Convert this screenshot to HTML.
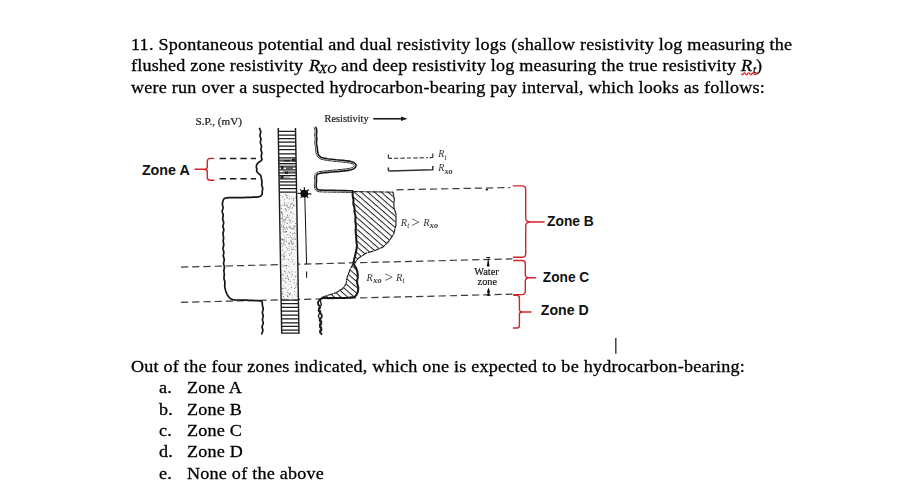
<!DOCTYPE html>
<html><head><meta charset="utf-8">
<style>
html,body{margin:0;padding:0;background:#fff;}
body{width:911px;height:504px;position:relative;overflow:hidden;font-family:"Liberation Serif",serif;color:#000;}
.t{position:absolute;white-space:nowrap;font-size:17.5px;line-height:20px;left:131.4px;letter-spacing:0.215px;transform-origin:left top;transform:scaleX(1.035);-webkit-text-stroke:0.3px #000;}
i{font-style:italic;}
svg{position:absolute;left:0;top:0;}
.z{font-family:"Liberation Sans",sans-serif;font-weight:bold;font-size:14.3px;fill:#111;}
.s{font-family:"Liberation Serif",serif;fill:#333;}
.b{fill:#1c1c1c;stroke:#1c1c1c;stroke-width:0.22px;}
</style></head><body>
<span class="t" style="top:34.1px;left:131px">11. Spontaneous potential and dual resistivity logs (shallow resistivity log measuring the</span>
<span class="t" style="top:55.2px;letter-spacing:0.17px">flushed zone resistivity</span>
<span class="t" style="top:55.2px;left:308.6px"><i>R</i></span><span class="t" style="top:58.5px;left:318.7px;font-size:12.5px;letter-spacing:0.3px"><i>XO</i></span>
<span class="t" style="top:55.2px;left:341.2px;letter-spacing:0.2px">and deep resistivity log measuring the true resistivity</span>
<span class="t" style="top:55.2px;left:740.9px"><i>R</i></span><span class="t" style="top:59.2px;left:752.8px;font-size:11px"><i>t</i></span><span class="t" style="top:55.2px;left:755.9px">)</span>
<span class="t" style="top:76.8px;">were run over a suspected hydrocarbon-bearing pay interval, which looks as follows:</span>
<span class="t" style="top:356px;">Out of the four zones indicated, which one is expected to be hydrocarbon-bearing:</span>
<span class="t" style="top:377.2px;left:159px">a.</span><span class="t" style="top:377.2px;left:187px">Zone A</span>
<span class="t" style="top:398.6px;left:159px">b.</span><span class="t" style="top:398.6px;left:187px">Zone B</span>
<span class="t" style="top:420px;left:159px">c.</span><span class="t" style="top:420px;left:187px">Zone C</span>
<span class="t" style="top:441.2px;left:159px">d.</span><span class="t" style="top:441.2px;left:187px">Zone D</span>
<span class="t" style="top:462.9px;left:159px">e.</span><span class="t" style="top:462.9px;left:187px">None of the above</span>
<svg width="911" height="504" viewBox="0 0 911 504">
<defs>
<pattern id="hatch" width="4.4" height="4.4" patternUnits="userSpaceOnUse" patternTransform="rotate(41)"><rect x="0" y="0" width="4.4" height="1.0" fill="#222"/></pattern>
<pattern id="sand" width="6" height="6" patternUnits="userSpaceOnUse">
<rect width="6" height="6" fill="#f0f0f0"/>
<circle cx="1" cy="1" r="0.5" fill="#999"/><circle cx="4" cy="2.2" r="0.45" fill="#aaa"/><circle cx="2.4" cy="4.3" r="0.5" fill="#999"/><circle cx="5.2" cy="5" r="0.4" fill="#bbb"/>
</pattern>
<filter id="bl" x="-5%" y="-5%" width="110%" height="110%"><feGaussianBlur stdDeviation="0.35"/></filter>
</defs>
<g filter="url(#bl)">
<!-- long dashed lines -->
<g stroke="#3a3a3a" stroke-width="1.2" fill="none" stroke-dasharray="7.2 4">
<line x1="396.4" y1="189.8" x2="510.4" y2="187.5"/>
<line x1="181" y1="267.1" x2="512.4" y2="258.9"/>
<line x1="181" y1="302.3" x2="512.4" y2="294.2"/>
</g>
<!-- zone A dashes -->
<g stroke="#1a1a1a" stroke-width="1.5" fill="none" stroke-dasharray="6.4 4">
<line x1="219.6" y1="158.6" x2="256" y2="158.6"/>
<line x1="219.6" y1="178.7" x2="256" y2="178.7"/>
</g>
<!-- column -->
<polygon points="279.8,192.3 297,192.3 298.8,299.6 281.2,299.6" fill="#f7f7f7"/>
<g><circle cx="288.4" cy="218.5" r="0.42" fill="#999"/><circle cx="289.4" cy="243.3" r="0.49" fill="#888"/><circle cx="283.8" cy="220.7" r="0.62" fill="#888"/><circle cx="289.1" cy="250.3" r="0.43" fill="#666"/><circle cx="282.7" cy="217.9" r="0.60" fill="#888"/><circle cx="291.4" cy="271.3" r="0.32" fill="#999"/><circle cx="291.9" cy="198.0" r="0.56" fill="#777"/><circle cx="291.7" cy="243.1" r="0.58" fill="#888"/><circle cx="292.9" cy="235.0" r="0.44" fill="#666"/><circle cx="283.1" cy="285.8" r="0.34" fill="#666"/><circle cx="290.5" cy="220.6" r="0.55" fill="#777"/><circle cx="293.5" cy="237.7" r="0.48" fill="#999"/><circle cx="289.7" cy="254.9" r="0.59" fill="#555"/><circle cx="297.0" cy="283.4" r="0.51" fill="#666"/><circle cx="285.9" cy="266.9" r="0.47" fill="#999"/><circle cx="291.8" cy="253.3" r="0.37" fill="#999"/><circle cx="282.4" cy="221.5" r="0.45" fill="#888"/><circle cx="292.4" cy="202.8" r="0.43" fill="#666"/><circle cx="286.2" cy="195.6" r="0.43" fill="#555"/><circle cx="289.2" cy="198.1" r="0.31" fill="#999"/><circle cx="294.2" cy="228.3" r="0.61" fill="#999"/><circle cx="281.3" cy="218.3" r="0.30" fill="#555"/><circle cx="281.9" cy="256.5" r="0.36" fill="#888"/><circle cx="284.3" cy="224.1" r="0.52" fill="#777"/><circle cx="295.5" cy="226.5" r="0.59" fill="#888"/><circle cx="294.1" cy="233.1" r="0.42" fill="#999"/><circle cx="282.8" cy="265.0" r="0.61" fill="#999"/><circle cx="289.9" cy="222.0" r="0.53" fill="#777"/><circle cx="284.5" cy="239.4" r="0.40" fill="#777"/><circle cx="286.0" cy="194.7" r="0.49" fill="#555"/><circle cx="289.4" cy="233.0" r="0.34" fill="#777"/><circle cx="291.0" cy="242.5" r="0.41" fill="#777"/><circle cx="282.0" cy="271.0" r="0.32" fill="#555"/><circle cx="285.3" cy="294.6" r="0.45" fill="#999"/><circle cx="283.7" cy="256.7" r="0.36" fill="#777"/><circle cx="285.3" cy="282.1" r="0.55" fill="#555"/><circle cx="282.1" cy="274.6" r="0.48" fill="#666"/><circle cx="283.7" cy="226.1" r="0.56" fill="#666"/><circle cx="290.8" cy="227.9" r="0.51" fill="#555"/><circle cx="284.8" cy="204.2" r="0.41" fill="#666"/><circle cx="293.9" cy="239.5" r="0.35" fill="#777"/><circle cx="284.5" cy="271.4" r="0.48" fill="#777"/><circle cx="282.2" cy="217.1" r="0.47" fill="#666"/><circle cx="293.4" cy="226.6" r="0.48" fill="#777"/><circle cx="293.3" cy="229.2" r="0.33" fill="#999"/><circle cx="282.6" cy="229.8" r="0.39" fill="#777"/><circle cx="290.3" cy="242.3" r="0.39" fill="#999"/><circle cx="295.0" cy="236.5" r="0.35" fill="#555"/><circle cx="293.6" cy="243.6" r="0.50" fill="#999"/><circle cx="295.5" cy="239.1" r="0.60" fill="#666"/><circle cx="286.7" cy="196.9" r="0.54" fill="#999"/><circle cx="289.7" cy="294.7" r="0.58" fill="#555"/><circle cx="296.6" cy="283.6" r="0.34" fill="#666"/><circle cx="294.0" cy="198.2" r="0.52" fill="#666"/><circle cx="295.5" cy="287.6" r="0.48" fill="#555"/><circle cx="282.7" cy="244.0" r="0.46" fill="#666"/><circle cx="288.9" cy="263.1" r="0.43" fill="#999"/><circle cx="282.1" cy="205.4" r="0.61" fill="#999"/><circle cx="292.8" cy="243.6" r="0.41" fill="#666"/><circle cx="293.9" cy="206.3" r="0.34" fill="#666"/><circle cx="295.7" cy="276.6" r="0.56" fill="#555"/><circle cx="289.3" cy="244.7" r="0.43" fill="#777"/><circle cx="289.6" cy="219.6" r="0.47" fill="#555"/><circle cx="292.6" cy="243.2" r="0.30" fill="#555"/><circle cx="282.3" cy="274.9" r="0.32" fill="#888"/><circle cx="294.9" cy="295.8" r="0.33" fill="#999"/><circle cx="283.2" cy="244.9" r="0.32" fill="#888"/><circle cx="289.8" cy="261.4" r="0.42" fill="#666"/><circle cx="288.0" cy="297.2" r="0.34" fill="#555"/><circle cx="286.8" cy="268.7" r="0.33" fill="#666"/><circle cx="286.8" cy="198.0" r="0.51" fill="#999"/><circle cx="292.9" cy="233.4" r="0.50" fill="#888"/><circle cx="289.4" cy="199.1" r="0.54" fill="#777"/><circle cx="291.2" cy="237.7" r="0.45" fill="#666"/><circle cx="284.3" cy="216.5" r="0.49" fill="#888"/><circle cx="282.4" cy="217.1" r="0.31" fill="#777"/><circle cx="294.5" cy="232.8" r="0.55" fill="#777"/><circle cx="290.6" cy="206.3" r="0.60" fill="#999"/><circle cx="291.4" cy="276.7" r="0.53" fill="#999"/><circle cx="293.3" cy="249.4" r="0.53" fill="#888"/><circle cx="292.0" cy="208.6" r="0.31" fill="#555"/><circle cx="290.9" cy="252.8" r="0.42" fill="#555"/><circle cx="293.7" cy="229.4" r="0.31" fill="#555"/><circle cx="294.0" cy="264.2" r="0.60" fill="#999"/><circle cx="282.0" cy="224.9" r="0.62" fill="#999"/><circle cx="291.7" cy="247.2" r="0.33" fill="#555"/><circle cx="282.8" cy="291.6" r="0.40" fill="#999"/><circle cx="281.6" cy="212.4" r="0.62" fill="#666"/><circle cx="291.3" cy="241.2" r="0.60" fill="#777"/><circle cx="286.4" cy="232.1" r="0.41" fill="#888"/><circle cx="287.1" cy="295.0" r="0.38" fill="#888"/><circle cx="296.6" cy="282.1" r="0.43" fill="#999"/><circle cx="291.5" cy="272.9" r="0.47" fill="#888"/><circle cx="286.1" cy="209.9" r="0.58" fill="#666"/><circle cx="291.5" cy="203.6" r="0.59" fill="#999"/><circle cx="290.4" cy="293.3" r="0.57" fill="#666"/><circle cx="283.4" cy="221.6" r="0.49" fill="#777"/><circle cx="294.7" cy="291.7" r="0.47" fill="#777"/><circle cx="294.3" cy="264.0" r="0.49" fill="#999"/><circle cx="284.9" cy="254.9" r="0.37" fill="#555"/><circle cx="292.7" cy="221.6" r="0.36" fill="#999"/><circle cx="285.3" cy="231.3" r="0.55" fill="#666"/><circle cx="291.2" cy="237.4" r="0.52" fill="#666"/><circle cx="293.6" cy="242.6" r="0.56" fill="#999"/><circle cx="295.5" cy="196.4" r="0.32" fill="#888"/><circle cx="295.0" cy="275.7" r="0.31" fill="#666"/><circle cx="291.3" cy="287.1" r="0.55" fill="#555"/><circle cx="294.8" cy="294.2" r="0.38" fill="#666"/><circle cx="283.4" cy="275.0" r="0.50" fill="#555"/><circle cx="285.3" cy="288.0" r="0.58" fill="#777"/><circle cx="281.8" cy="212.7" r="0.56" fill="#555"/><circle cx="292.9" cy="203.2" r="0.39" fill="#777"/><circle cx="291.9" cy="241.0" r="0.41" fill="#555"/><circle cx="286.9" cy="228.7" r="0.46" fill="#666"/><circle cx="292.4" cy="261.2" r="0.46" fill="#666"/><circle cx="282.8" cy="250.7" r="0.39" fill="#888"/><circle cx="293.9" cy="205.3" r="0.59" fill="#555"/><circle cx="291.5" cy="248.9" r="0.52" fill="#777"/><circle cx="285.6" cy="273.0" r="0.52" fill="#777"/><circle cx="294.8" cy="204.8" r="0.41" fill="#999"/><circle cx="282.7" cy="249.8" r="0.46" fill="#777"/><circle cx="284.3" cy="199.7" r="0.53" fill="#666"/><circle cx="292.2" cy="261.3" r="0.35" fill="#777"/><circle cx="291.4" cy="286.9" r="0.34" fill="#999"/><circle cx="285.0" cy="208.3" r="0.53" fill="#999"/><circle cx="285.1" cy="237.6" r="0.36" fill="#888"/><circle cx="283.1" cy="226.3" r="0.32" fill="#666"/><circle cx="289.3" cy="272.7" r="0.54" fill="#777"/><circle cx="284.1" cy="204.0" r="0.32" fill="#666"/><circle cx="287.5" cy="197.9" r="0.38" fill="#999"/><circle cx="285.4" cy="230.7" r="0.43" fill="#999"/><circle cx="282.7" cy="278.5" r="0.46" fill="#555"/><circle cx="289.0" cy="209.4" r="0.52" fill="#999"/><circle cx="292.4" cy="275.3" r="0.36" fill="#666"/><circle cx="291.1" cy="253.0" r="0.43" fill="#666"/><circle cx="283.2" cy="255.7" r="0.43" fill="#666"/><circle cx="283.5" cy="250.7" r="0.36" fill="#777"/><circle cx="284.9" cy="232.3" r="0.57" fill="#888"/><circle cx="296.3" cy="287.1" r="0.42" fill="#999"/><circle cx="286.1" cy="288.6" r="0.46" fill="#999"/><circle cx="285.5" cy="265.6" r="0.58" fill="#888"/><circle cx="282.8" cy="196.7" r="0.50" fill="#555"/><circle cx="291.3" cy="274.4" r="0.46" fill="#999"/><circle cx="284.0" cy="259.1" r="0.55" fill="#666"/><circle cx="287.4" cy="197.4" r="0.51" fill="#888"/><circle cx="284.3" cy="205.2" r="0.51" fill="#666"/><circle cx="292.3" cy="207.7" r="0.50" fill="#555"/><circle cx="289.2" cy="196.2" r="0.46" fill="#888"/><circle cx="295.4" cy="250.1" r="0.40" fill="#777"/><circle cx="283.3" cy="266.4" r="0.57" fill="#999"/><circle cx="282.2" cy="274.9" r="0.33" fill="#777"/><circle cx="284.7" cy="298.3" r="0.32" fill="#666"/><circle cx="292.3" cy="239.4" r="0.46" fill="#555"/><circle cx="287.3" cy="276.1" r="0.57" fill="#666"/><circle cx="287.6" cy="234.6" r="0.32" fill="#888"/><circle cx="287.5" cy="215.4" r="0.31" fill="#888"/><circle cx="287.2" cy="273.0" r="0.36" fill="#555"/><circle cx="286.6" cy="269.1" r="0.42" fill="#999"/><circle cx="286.5" cy="231.5" r="0.61" fill="#666"/><circle cx="285.8" cy="220.7" r="0.57" fill="#999"/><circle cx="283.4" cy="214.0" r="0.35" fill="#888"/><circle cx="290.4" cy="246.4" r="0.34" fill="#999"/><circle cx="287.5" cy="211.2" r="0.32" fill="#555"/><circle cx="285.3" cy="235.8" r="0.31" fill="#555"/><circle cx="281.3" cy="218.6" r="0.46" fill="#666"/><circle cx="286.0" cy="218.9" r="0.36" fill="#777"/><circle cx="286.1" cy="258.9" r="0.34" fill="#555"/><circle cx="285.6" cy="278.3" r="0.61" fill="#888"/><circle cx="296.4" cy="276.4" r="0.46" fill="#999"/><circle cx="292.9" cy="221.4" r="0.50" fill="#777"/><circle cx="281.6" cy="226.8" r="0.44" fill="#555"/><circle cx="281.6" cy="255.7" r="0.31" fill="#555"/><circle cx="287.4" cy="195.5" r="0.45" fill="#666"/><circle cx="295.1" cy="262.2" r="0.36" fill="#888"/><circle cx="287.6" cy="229.2" r="0.41" fill="#555"/><circle cx="292.1" cy="233.6" r="0.50" fill="#888"/><circle cx="284.4" cy="202.7" r="0.57" fill="#555"/><circle cx="289.0" cy="246.8" r="0.47" fill="#888"/><circle cx="291.5" cy="211.8" r="0.53" fill="#999"/><circle cx="283.3" cy="231.2" r="0.56" fill="#888"/><circle cx="292.3" cy="217.6" r="0.45" fill="#777"/><circle cx="288.9" cy="279.7" r="0.54" fill="#888"/><circle cx="282.6" cy="293.2" r="0.35" fill="#555"/><circle cx="283.0" cy="279.9" r="0.52" fill="#555"/><circle cx="289.5" cy="227.1" r="0.56" fill="#555"/><circle cx="295.0" cy="285.7" r="0.44" fill="#777"/><circle cx="282.3" cy="298.2" r="0.36" fill="#555"/><circle cx="285.1" cy="229.0" r="0.44" fill="#666"/><circle cx="281.4" cy="218.8" r="0.35" fill="#666"/><circle cx="281.6" cy="255.0" r="0.37" fill="#666"/><circle cx="288.7" cy="216.6" r="0.43" fill="#999"/><circle cx="294.2" cy="227.0" r="0.55" fill="#888"/><circle cx="281.6" cy="212.1" r="0.56" fill="#555"/><circle cx="294.3" cy="256.3" r="0.33" fill="#777"/><circle cx="286.9" cy="202.5" r="0.37" fill="#999"/><circle cx="287.3" cy="204.9" r="0.51" fill="#777"/><circle cx="290.6" cy="235.8" r="0.55" fill="#777"/><circle cx="290.3" cy="281.2" r="0.56" fill="#666"/><circle cx="280.8" cy="205.8" r="0.40" fill="#555"/><circle cx="283.4" cy="229.4" r="0.54" fill="#999"/><circle cx="286.5" cy="265.6" r="0.55" fill="#555"/><circle cx="284.2" cy="257.1" r="0.41" fill="#555"/><circle cx="286.8" cy="228.7" r="0.33" fill="#666"/><circle cx="291.9" cy="227.4" r="0.37" fill="#666"/><circle cx="296.9" cy="285.3" r="0.50" fill="#999"/><circle cx="286.8" cy="283.0" r="0.36" fill="#999"/><circle cx="288.8" cy="293.2" r="0.55" fill="#888"/><circle cx="289.5" cy="242.8" r="0.31" fill="#555"/><circle cx="281.9" cy="212.9" r="0.53" fill="#777"/><circle cx="282.0" cy="246.4" r="0.45" fill="#666"/><circle cx="285.3" cy="271.7" r="0.44" fill="#777"/><circle cx="283.7" cy="242.7" r="0.55" fill="#666"/><circle cx="284.5" cy="204.4" r="0.43" fill="#555"/><circle cx="287.5" cy="215.1" r="0.56" fill="#777"/><circle cx="297.0" cy="296.0" r="0.58" fill="#777"/><circle cx="287.9" cy="292.5" r="0.60" fill="#888"/><circle cx="288.9" cy="248.7" r="0.42" fill="#777"/><circle cx="287.3" cy="223.4" r="0.58" fill="#777"/><circle cx="295.7" cy="272.0" r="0.47" fill="#555"/><circle cx="288.0" cy="207.3" r="0.47" fill="#666"/><circle cx="282.2" cy="293.3" r="0.61" fill="#888"/><circle cx="295.7" cy="230.8" r="0.42" fill="#999"/><circle cx="282.7" cy="197.2" r="0.30" fill="#888"/><circle cx="294.4" cy="288.5" r="0.49" fill="#555"/><circle cx="284.5" cy="240.8" r="0.52" fill="#888"/><circle cx="284.5" cy="237.4" r="0.31" fill="#888"/><circle cx="295.6" cy="197.4" r="0.35" fill="#999"/><circle cx="282.5" cy="219.5" r="0.54" fill="#888"/><circle cx="293.6" cy="246.9" r="0.48" fill="#777"/><circle cx="281.0" cy="195.2" r="0.46" fill="#555"/><circle cx="295.6" cy="287.7" r="0.45" fill="#999"/><circle cx="286.3" cy="247.6" r="0.50" fill="#777"/><circle cx="290.6" cy="212.7" r="0.62" fill="#999"/><circle cx="291.9" cy="204.2" r="0.44" fill="#777"/><circle cx="288.0" cy="277.8" r="0.61" fill="#666"/><circle cx="283.1" cy="254.1" r="0.31" fill="#888"/><circle cx="294.2" cy="282.9" r="0.60" fill="#999"/><circle cx="285.0" cy="222.2" r="0.49" fill="#555"/><circle cx="284.9" cy="244.7" r="0.53" fill="#777"/><circle cx="290.2" cy="204.3" r="0.42" fill="#999"/><circle cx="292.3" cy="244.6" r="0.56" fill="#888"/><circle cx="294.6" cy="214.0" r="0.36" fill="#888"/><circle cx="287.4" cy="292.4" r="0.32" fill="#666"/><circle cx="296.3" cy="293.2" r="0.40" fill="#888"/><circle cx="281.8" cy="251.8" r="0.43" fill="#888"/><circle cx="283.1" cy="296.4" r="0.37" fill="#666"/><circle cx="291.8" cy="270.9" r="0.34" fill="#555"/><circle cx="293.6" cy="259.8" r="0.30" fill="#777"/><circle cx="292.1" cy="295.8" r="0.44" fill="#888"/><circle cx="285.0" cy="242.0" r="0.48" fill="#666"/><circle cx="295.3" cy="218.3" r="0.35" fill="#666"/><circle cx="288.0" cy="266.0" r="0.43" fill="#555"/><circle cx="281.3" cy="208.4" r="0.54" fill="#666"/><circle cx="290.2" cy="226.2" r="0.34" fill="#666"/><circle cx="295.0" cy="198.6" r="0.47" fill="#888"/><circle cx="287.7" cy="275.3" r="0.36" fill="#555"/><circle cx="282.5" cy="223.0" r="0.35" fill="#666"/><circle cx="295.2" cy="233.8" r="0.49" fill="#666"/><circle cx="285.4" cy="194.3" r="0.35" fill="#888"/><circle cx="285.5" cy="219.3" r="0.60" fill="#888"/><circle cx="293.2" cy="204.4" r="0.45" fill="#777"/><circle cx="294.1" cy="249.2" r="0.44" fill="#888"/><circle cx="288.7" cy="242.2" r="0.44" fill="#999"/><circle cx="286.4" cy="241.4" r="0.54" fill="#777"/><circle cx="294.7" cy="291.4" r="0.36" fill="#666"/><circle cx="293.4" cy="226.8" r="0.34" fill="#999"/><circle cx="287.7" cy="296.2" r="0.58" fill="#555"/><circle cx="283.3" cy="253.7" r="0.34" fill="#888"/><circle cx="292.1" cy="297.6" r="0.47" fill="#777"/><circle cx="288.1" cy="203.2" r="0.44" fill="#666"/><circle cx="284.2" cy="255.5" r="0.45" fill="#999"/><circle cx="285.2" cy="232.7" r="0.41" fill="#999"/><circle cx="292.3" cy="274.5" r="0.41" fill="#777"/><circle cx="295.7" cy="223.6" r="0.39" fill="#555"/><circle cx="284.3" cy="256.7" r="0.62" fill="#666"/><circle cx="295.5" cy="223.2" r="0.44" fill="#888"/><circle cx="292.6" cy="228.6" r="0.36" fill="#999"/><circle cx="287.4" cy="249.0" r="0.50" fill="#555"/><circle cx="288.8" cy="237.3" r="0.50" fill="#777"/><circle cx="293.2" cy="199.7" r="0.42" fill="#555"/><circle cx="283.7" cy="232.0" r="0.48" fill="#555"/><circle cx="294.1" cy="238.8" r="0.53" fill="#777"/><circle cx="285.4" cy="194.7" r="0.42" fill="#888"/><circle cx="290.4" cy="232.6" r="0.58" fill="#999"/><circle cx="285.5" cy="245.5" r="0.30" fill="#555"/><circle cx="283.2" cy="258.0" r="0.33" fill="#777"/><circle cx="283.6" cy="239.2" r="0.31" fill="#777"/><circle cx="292.1" cy="249.6" r="0.57" fill="#666"/><circle cx="291.0" cy="239.8" r="0.34" fill="#888"/><circle cx="282.5" cy="217.1" r="0.40" fill="#999"/><circle cx="292.9" cy="213.4" r="0.49" fill="#555"/><circle cx="292.9" cy="238.7" r="0.42" fill="#888"/><circle cx="284.2" cy="280.9" r="0.39" fill="#888"/><circle cx="289.8" cy="214.9" r="0.49" fill="#777"/><circle cx="282.3" cy="239.3" r="0.61" fill="#555"/><circle cx="293.6" cy="200.3" r="0.54" fill="#777"/><circle cx="280.7" cy="200.4" r="0.45" fill="#888"/><circle cx="282.6" cy="259.8" r="0.51" fill="#888"/><circle cx="284.8" cy="286.1" r="0.40" fill="#888"/><circle cx="282.7" cy="294.1" r="0.47" fill="#999"/><circle cx="289.4" cy="248.5" r="0.33" fill="#666"/><circle cx="294.1" cy="279.7" r="0.59" fill="#888"/><circle cx="295.8" cy="223.4" r="0.51" fill="#999"/><circle cx="288.9" cy="217.3" r="0.41" fill="#999"/><circle cx="288.1" cy="207.5" r="0.50" fill="#777"/><circle cx="293.8" cy="226.6" r="0.49" fill="#999"/><circle cx="281.5" cy="214.9" r="0.44" fill="#777"/><circle cx="288.3" cy="259.6" r="0.57" fill="#666"/><circle cx="296.0" cy="279.9" r="0.34" fill="#999"/><circle cx="283.8" cy="235.2" r="0.36" fill="#555"/><circle cx="284.1" cy="227.8" r="0.58" fill="#555"/><circle cx="285.7" cy="218.4" r="0.37" fill="#777"/><circle cx="284.2" cy="219.8" r="0.52" fill="#777"/><circle cx="284.3" cy="270.4" r="0.40" fill="#666"/><circle cx="284.5" cy="252.8" r="0.52" fill="#666"/><circle cx="286.7" cy="278.6" r="0.37" fill="#999"/><circle cx="288.6" cy="234.9" r="0.49" fill="#777"/><circle cx="281.9" cy="239.9" r="0.55" fill="#888"/><circle cx="289.4" cy="245.0" r="0.39" fill="#888"/><circle cx="284.4" cy="265.5" r="0.56" fill="#888"/><circle cx="296.2" cy="229.8" r="0.45" fill="#666"/><circle cx="286.3" cy="205.6" r="0.58" fill="#666"/><circle cx="282.7" cy="254.8" r="0.47" fill="#777"/><circle cx="288.8" cy="243.7" r="0.58" fill="#888"/><circle cx="281.6" cy="232.9" r="0.41" fill="#666"/><circle cx="291.7" cy="259.0" r="0.61" fill="#999"/><circle cx="294.3" cy="225.3" r="0.58" fill="#999"/><circle cx="286.5" cy="227.5" r="0.60" fill="#777"/><circle cx="287.8" cy="290.5" r="0.48" fill="#777"/><circle cx="286.1" cy="237.9" r="0.36" fill="#777"/><circle cx="289.6" cy="266.7" r="0.42" fill="#555"/><circle cx="283.0" cy="227.5" r="0.59" fill="#888"/><circle cx="286.0" cy="211.6" r="0.36" fill="#888"/><circle cx="286.3" cy="251.5" r="0.53" fill="#999"/><circle cx="283.8" cy="244.1" r="0.46" fill="#666"/><circle cx="288.4" cy="206.0" r="0.34" fill="#888"/><circle cx="289.1" cy="284.7" r="0.43" fill="#555"/><circle cx="291.1" cy="243.8" r="0.37" fill="#777"/><circle cx="294.9" cy="205.8" r="0.45" fill="#888"/><circle cx="285.6" cy="209.0" r="0.52" fill="#777"/><circle cx="288.5" cy="253.5" r="0.36" fill="#666"/><circle cx="284.1" cy="219.4" r="0.41" fill="#777"/><circle cx="283.2" cy="288.3" r="0.53" fill="#555"/><circle cx="287.1" cy="217.2" r="0.61" fill="#777"/><circle cx="283.6" cy="280.5" r="0.31" fill="#888"/><circle cx="287.9" cy="221.8" r="0.42" fill="#888"/><circle cx="288.7" cy="271.7" r="0.52" fill="#888"/><circle cx="288.0" cy="296.2" r="0.39" fill="#777"/><circle cx="286.6" cy="255.0" r="0.31" fill="#666"/><circle cx="281.3" cy="238.8" r="0.55" fill="#666"/><circle cx="295.7" cy="246.5" r="0.57" fill="#777"/><circle cx="289.8" cy="220.5" r="0.48" fill="#777"/><circle cx="282.7" cy="214.8" r="0.61" fill="#555"/><circle cx="292.0" cy="244.4" r="0.35" fill="#999"/><circle cx="293.0" cy="228.9" r="0.53" fill="#777"/><circle cx="289.6" cy="207.9" r="0.58" fill="#666"/><circle cx="290.7" cy="203.5" r="0.50" fill="#999"/><circle cx="287.3" cy="234.5" r="0.62" fill="#999"/><circle cx="283.4" cy="240.0" r="0.56" fill="#555"/><circle cx="291.0" cy="223.1" r="0.35" fill="#555"/><circle cx="291.6" cy="228.8" r="0.57" fill="#777"/><circle cx="292.4" cy="204.2" r="0.42" fill="#999"/><circle cx="290.8" cy="240.2" r="0.40" fill="#666"/><circle cx="284.2" cy="239.8" r="0.30" fill="#666"/><circle cx="286.4" cy="217.6" r="0.33" fill="#777"/><circle cx="283.5" cy="296.5" r="0.51" fill="#666"/><circle cx="281.2" cy="224.0" r="0.31" fill="#777"/><circle cx="287.0" cy="216.9" r="0.46" fill="#999"/><circle cx="294.5" cy="233.5" r="0.37" fill="#999"/><circle cx="285.2" cy="238.3" r="0.32" fill="#888"/><circle cx="282.5" cy="246.0" r="0.60" fill="#999"/><circle cx="283.9" cy="292.1" r="0.47" fill="#777"/><circle cx="284.2" cy="298.5" r="0.42" fill="#777"/><circle cx="287.5" cy="206.3" r="0.45" fill="#666"/><circle cx="293.0" cy="271.2" r="0.31" fill="#555"/><circle cx="281.4" cy="243.2" r="0.53" fill="#888"/><circle cx="282.6" cy="288.6" r="0.52" fill="#777"/><circle cx="288.6" cy="279.3" r="0.55" fill="#666"/><circle cx="288.9" cy="225.9" r="0.43" fill="#555"/><circle cx="290.4" cy="205.4" r="0.38" fill="#666"/></g>
<path d="M278.3,131.4H295.6 M278.3,135.0H295.6 M278.4,138.6H295.7 M278.4,142.1H295.7 M278.5,146.1H295.8 M278.6,149.6H295.9 M278.6,153.8H295.9 M278.7,157.9H296.0 M278.8,160.9H296.1 M278.8,163.6H296.1 M278.9,166.8H296.2 M278.9,169.8H296.2 M279.0,172.9H296.3 M279.0,175.7H296.3 M279.1,178.8H296.4 M279.1,181.8H296.4 M279.2,185.0H296.5 M279.2,188.6H296.5 M279.3,192.1H296.6 M281.1,300.0H298.4 M281.2,303.6H298.5 M281.2,307.3H298.5 M281.3,311.2H298.6 M281.4,315.2H298.7 M281.4,318.9H298.7 M281.5,322.9H298.8 M281.6,326.4H298.9 M281.6,330.0H298.9 M281.7,333.2H299.0" stroke="#1c1c1c" stroke-width="1.25" fill="none"/>
<path d="M279,159.4H292 M279,165.2H296 M283,171.4H296.2 M279.3,177.2H290" stroke="#666" stroke-width="0.7" fill="none"/>
<g fill="#222"><rect x="292" y="158.5" width="3.5" height="3"/><rect x="281" y="166" width="2.5" height="3"/><rect x="285" y="171.5" width="3" height="2.5"/><rect x="280.5" y="176" width="3" height="2.7"/><rect x="284" y="160" width="6" height="1.4"/><rect x="286" y="167.5" width="7" height="1.2"/></g>
<g stroke="#1a1a1a" stroke-width="1.4" fill="none">
<line x1="278.2" y1="128" x2="281.7" y2="333.8"/>
<line x1="295.5" y1="128" x2="299" y2="333.8"/>
</g>
<!-- SP curve -->
<path fill="none" stroke="#161616" stroke-width="1.7" stroke-linejoin="round" stroke-linecap="round" d="M259.6,128.5 L259.7,128.7 L259.9,129.2 L260.1,129.8 L260.5,130.7 L260.7,131.6 L260.7,132.4 L260.5,133.3 L260.1,134.2 L260.0,135.1 L260.0,135.9 L260.2,136.8 L260.6,137.7 L260.9,138.6 L260.9,139.4 L260.8,140.3 L260.5,141.2 L260.3,142.1 L260.4,142.9 L260.7,143.8 L261.1,144.7 L261.4,145.6 L261.4,146.4 L261.4,147.3 L261.1,148.2 L261.0,149.1 L261.0,149.9 L261.2,150.8 L261.6,151.7 L261.8,152.6 L261.8,153.4 L261.7,154.3 L261.4,155.2 L261.3,156.1 L261.3,156.9 L261.5,157.8 L261.9,158.7 L261.9,159.5 L261.6,160.2 L260.9,160.9 L260.0,161.4 L259.1,162.0 L258.4,162.6 L257.8,163.1 L257.3,163.7 L256.9,164.2 L256.7,164.8 L256.5,165.4 L256.4,166.1 L256.4,166.7 L256.4,167.3 L256.5,167.9 L256.7,168.6 L256.8,169.2 L256.8,169.7 L256.8,170.2 L256.6,170.8 L256.7,171.3 L257.0,171.8 L257.4,172.3 L257.9,172.8 L258.5,173.3 L259.1,173.8 L259.6,174.3 L260.2,174.8 L260.6,175.4 L260.9,176.0 L261.1,176.7 L261.2,177.4 L261.3,178.2 L261.4,178.9 L261.6,179.7 L261.8,180.5 L261.9,181.3 L262.0,182.2 L261.9,183.0 L261.7,183.8 L261.7,184.6 L261.8,185.4 L262.0,186.2 L262.4,187.0 L262.6,187.8 L262.7,188.7 L262.6,189.5 L262.4,190.3 L262.2,191.0 L262.2,191.8 L262.2,192.4 L262.3,193.1 L262.2,193.7 L262.1,194.3 L261.8,194.8 L261.4,195.4 L260.9,195.8 L260.3,196.2 L259.6,196.5 L258.7,196.8 L257.6,196.9 L256.3,197.1 L254.7,197.2 L252.8,197.2 L250.8,197.3 L248.6,197.4 L246.2,197.4 L243.8,197.6 L241.2,197.6 L238.8,197.7 L236.2,197.7 L233.8,197.6 L231.6,197.6 L229.9,197.7 L228.5,197.7 L227.5,197.8 L226.6,197.9 L225.8,198.0 L225.2,198.2 L224.6,198.4 L224.2,198.7 L223.8,199.0 L223.5,199.4 L223.4,199.8 L223.2,200.4 L223.0,201.0 L222.7,201.8 L222.5,202.7 L222.4,203.6 L222.4,204.5 L222.6,205.4 L222.9,206.3 L223.1,207.2 L223.0,208.2 L222.8,209.1 L222.4,210.0 L222.2,211.0 L222.2,211.9 L222.5,212.8 L222.9,213.8 L223.2,214.7 L223.2,215.6 L223.1,216.5 L222.8,217.5 L222.7,218.4 L222.7,219.3 L222.9,220.2 L223.4,221.2 L223.6,222.1 L223.6,223.0 L223.5,224.0 L223.2,224.9 L223.0,225.8 L223.0,226.8 L223.2,227.7 L223.6,228.6 L223.7,229.5 L223.7,230.5 L223.6,231.4 L223.2,232.3 L223.0,233.2 L223.0,234.2 L223.1,235.1 L223.4,236.0 L223.5,237.0 L223.6,237.9 L223.5,238.8 L223.3,239.8 L223.2,240.7 L223.2,241.6 L223.4,242.5 L223.6,243.5 L223.8,244.4 L223.7,245.3 L223.5,246.2 L223.2,247.2 L223.0,248.1 L223.0,249.0 L223.2,250.0 L223.6,250.9 L223.8,251.8 L223.8,252.8 L223.7,253.7 L223.4,254.6 L223.3,255.5 L223.4,256.5 L223.6,257.4 L224.0,258.3 L224.2,259.2 L224.2,260.2 L224.1,261.1 L223.8,262.0 L223.6,263.0 L223.6,263.9 L223.8,264.8 L224.2,265.8 L224.4,266.7 L224.4,267.6 L224.3,268.5 L224.0,269.5 L223.9,270.4 L223.9,271.3 L224.0,272.2 L224.2,273.2 L224.3,274.1 L224.3,275.0 L224.2,276.0 L224.0,276.9 L224.0,277.8 L224.0,278.8 L224.2,279.7 L224.6,280.6 L224.8,281.6 L224.9,282.5 L224.9,283.5 L224.8,284.5 L224.7,285.5 L224.8,286.6 L224.9,287.7 L225.2,288.8 L225.4,289.9 L225.8,291.1 L226.2,292.2 L226.6,293.3 L227.1,294.4 L227.7,295.4 L228.3,296.4 L229.0,297.2 L229.7,298.0 L230.5,298.6 L231.3,299.1 L232.2,299.5 L233.2,299.7 L234.5,299.9 L235.9,300.0 L237.6,300.0 L239.4,300.0 L241.5,300.1 L243.8,300.1 L246.2,300.2 L248.6,300.3 L250.9,300.4 L253.0,300.4 L255.0,300.6 L256.7,300.6 L258.2,300.7 L259.4,300.8 L260.2,300.8 L261.0,300.9 L261.5,301.1 L261.9,301.4 L262.0,301.8 L262.2,302.2 L262.3,302.8 L262.3,303.5 L262.3,304.3 L262.4,305.1 L262.5,306.0 L262.8,306.8 L263.1,307.7 L263.2,308.6 L263.2,309.5 L263.0,310.4 L262.6,311.2 L262.4,312.1 L262.4,313.0 L262.6,313.9 L263.0,314.8 L263.2,315.7 L263.2,316.6 L263.0,317.4 L262.7,318.3 L262.5,319.2 L262.5,320.1 L262.7,321.0 L263.1,321.9 L263.2,322.7 L263.2,323.6 L262.9,324.5 L262.5,325.4 L262.2,326.3 L262.1,327.2 L262.3,328.1 L262.6,328.9 L262.8,329.8 L262.8,330.7 L262.6,331.6 L262.2,332.5 L262.0,333.1 L261.8,333.6 L261.7,333.8"/>
<!-- resistivity -->
<path d="M352.7,191.6 L392.9,192.1 L394.3,197.9 L393.8,206.8 L396.0,214.0 L396.0,224.6 L393.8,233.6 L389.3,240.7 L383.0,247.0 L375.0,250.5 L366.0,253.2 L358.0,258.6 L354.5,263.0 L353.2,263.5 L354.0,260.0 L355.0,256.0 L356.2,251.0 L357.0,246.0 L356.4,241.0 L356.2,236.0 L355.5,231.0 L356.0,226.0 L355.2,221.0 L355.6,216.0 L354.4,212.0 L354.6,208.0 L353.2,204.0 L353.6,200.0 L352.6,196.0 L352.7,191.6 Z" fill="url(#hatch)"/>
<path d="M353.2,263.5 L357.1,269.6 L358.0,276.8 L356.8,282.0 L358.6,288.4 L357.0,294.6 L353.6,297.9 L323.2,297.9 L320.5,298.2 L326.8,295.5 L335.7,292.9 L342.9,288.4 L346.0,284.0 L347.3,276.8 L350.0,269.6 L353.2,263.5 Z" fill="url(#hatch)"/>
<g fill="none" stroke-linejoin="round" stroke-linecap="round">
<path d="M315.9,127.3 L316.0,127.5 L316.1,128.0 L316.3,128.6 L316.6,129.5 L316.7,130.5 L316.8,131.5 L316.7,132.6 L316.5,133.6 L316.4,134.5 L316.4,135.5 L316.5,136.4 L316.7,137.4 L316.8,138.5 L316.8,139.5 L316.7,140.6 L316.5,141.6 L316.5,142.5 L316.5,143.4 L316.6,144.4 L316.9,145.3 L317.1,146.3 L317.2,147.2 L317.3,148.1 L317.3,148.8 L317.4,149.5 L317.4,150.2 L317.5,150.8 L317.6,151.4 L317.7,152.1 L317.9,152.7 L318.0,153.4 L318.2,154.1 L318.5,154.8 L318.8,155.4 L319.3,155.9 L319.8,156.5 L320.6,157.0 L321.5,157.4 L322.6,157.8 L324.0,158.1 L325.6,158.4 L327.4,158.7 L329.5,159.0 L331.7,159.2 L334.0,159.5 L336.4,159.8 L338.8,160.0 L341.3,160.2 L343.6,160.4 L345.6,160.7 L347.4,160.9 L348.9,161.1 L350.3,161.4 L351.5,161.7 L352.6,162.1 L353.6,162.5 L354.4,163.0 L355.0,163.5 L355.5,164.0 L355.9,164.6 L356.0,165.3 L356.0,165.9 L355.8,166.6 L355.4,167.2 L354.9,167.8 L354.3,168.4 L353.5,168.9 L352.5,169.3 L351.3,169.7 L349.9,170.0 L348.1,170.4 L346.1,170.6 L344.0,170.9 L341.7,171.1 L339.3,171.4 L336.8,171.6 L334.4,171.8 L332.0,172.0 L329.7,172.2 L327.4,172.4 L325.5,172.6 L323.8,172.8 L322.3,173.0 L321.2,173.1 L320.2,173.3 L319.3,173.5 L318.6,173.8 L318.0,174.0 L317.5,174.3 L317.1,174.6 L316.8,175.0 L316.6,175.4 L316.5,176.0 L316.4,176.8 L316.4,177.9 L316.4,179.1 L316.5,180.3 L316.4,181.5 L316.4,182.6 L316.2,183.6 L316.2,184.5 L316.2,185.3 L316.2,186.1 L316.3,186.7 L316.4,187.4 L316.6,188.0 L316.9,188.5 L317.1,188.9 L317.4,189.3 L317.8,189.6 L318.2,189.8 L318.7,189.9 L319.8,190.0 L321.4,190.1 L323.5,190.2 L326.1,190.3 L329.5,190.3 L333.6,190.4 L338.5,190.5 L344.2,190.6 L348.5,190.7 L351.3,190.7 L352.7,190.8" stroke="#161616" stroke-width="1.6"/>
<path d="M314.2,127.8 L314.3,128.0 L314.4,128.4 L314.6,129.1 L314.8,129.9 L315.0,130.7 L315.0,131.5 L314.9,132.4 L314.8,133.4 L314.7,134.5 L314.7,135.6 L314.8,136.7 L315.0,137.6 L315.1,138.5 L315.1,139.5 L315.0,140.4 L314.8,141.4 L314.7,142.5 L314.7,143.6 L314.9,144.7 L315.2,145.7 L315.3,146.6 L315.5,147.4 L315.5,148.2 L315.6,148.9 L315.6,149.7 L315.7,150.4 L315.8,151.1 L315.9,151.7 L316.0,152.4 L316.2,153.1 L316.3,153.9 L316.6,154.7 L316.9,155.5 L317.4,156.4 L318.0,157.1 L318.7,157.8 L319.7,158.5 L320.9,159.0 L322.2,159.5 L323.7,159.8 L325.3,160.1 L327.2,160.4 L329.2,160.7 L331.5,161.0 L333.8,161.2 L336.2,161.5 L338.7,161.7 L341.2,162.0 L343.4,162.2 L345.4,162.4 L347.1,162.6 L348.6,162.8 L349.9,163.1 L351.0,163.4 L352.0,163.7 L352.8,164.1 L353.4,164.5 L353.9,164.8 L354.1,165.0 L354.2,165.2 L354.3,165.4 L354.3,165.6 L354.2,165.9 L354.0,166.2 L353.7,166.6 L353.3,167.0 L352.7,167.3 L351.9,167.7 L350.9,168.0 L349.5,168.3 L347.8,168.6 L345.9,168.9 L343.8,169.2 L341.5,169.4 L339.2,169.6 L336.7,169.9 L334.2,170.1 L331.8,170.3 L329.5,170.5 L327.3,170.7 L325.3,170.9 L323.6,171.1 L322.1,171.2 L320.9,171.4 L319.8,171.6 L318.8,171.8 L317.9,172.1 L317.1,172.5 L316.4,172.9 L315.8,173.5 L315.3,174.1 L315.0,174.8 L314.7,175.7 L314.6,176.7 L314.6,177.9 L314.7,179.2 L314.7,180.3 L314.7,181.4 L314.6,182.4 L314.5,183.4 L314.4,184.4 L314.4,185.3 L314.5,186.2 L314.6,187.0 L314.7,187.8 L315.0,188.6 L315.3,189.3 L315.7,190.0 L316.2,190.6 L316.9,191.0 L317.6,191.4 L318.4,191.6 L319.6,191.8 L321.3,191.9 L323.4,192.0 L326.0,192.0 L329.4,192.1 L333.6,192.2 L338.5,192.2 L344.2,192.3 L348.4,192.4 L351.3,192.5 L352.7,192.5" stroke="#222" stroke-width="1.0" stroke-dasharray="3.5 1.1"/>
<path d="M323.2,297.9 L323.0,298.0 L322.7,298.1 L322.2,298.2 L321.6,298.5 L320.9,298.8 L320.4,299.2 L319.8,299.6 L319.2,300.2 L318.8,300.8 L318.4,301.4 L318.1,302.1 L317.9,302.9 L318.0,303.6 L318.2,304.4 L318.8,305.2 L319.6,306.0 L320.0,306.8 L320.1,307.6 L319.8,308.4 L319.0,309.2 L318.7,310.0 L318.7,310.8 L319.1,311.6 L319.9,312.4 L320.5,313.2 L321.1,314.0 L321.5,314.8 L321.8,315.6 L321.8,316.4 L321.6,317.2 L321.0,318.0 L320.1,318.8 L319.7,319.6 L319.6,320.4 L320.0,321.2 L320.8,322.0 L321.2,322.8 L321.3,323.6 L321.0,324.4 L320.2,325.2 L319.9,326.0 L319.9,326.8 L320.3,327.6 L321.1,328.4 L321.5,329.2 L321.5,329.9 L321.2,330.5 L320.6,331.1 L320.2,331.7 L320.1,332.2 L320.4,332.8 L320.9,333.2 L321.2,333.6 L321.5,333.9 L321.6,334.0" stroke="#1a1a1a" stroke-width="1.8"/>
<path d="M320.5,300.5 L320.5,300.6 L320.5,300.9 L320.5,301.2 L320.6,301.8 L320.6,302.3 L320.8,302.9 L321.0,303.6 L321.2,304.3 L321.2,305.1 L320.8,305.8 L320.2,306.6 L319.2,307.4 L318.7,308.2 L318.7,309.0 L319.2,309.8 L320.1,310.6 L320.5,311.4 L320.6,312.2 L320.2,313.0 L319.4,313.8 L318.9,314.6 L318.5,315.4 L318.5,316.2 L318.7,317.0 L319.1,317.8 L319.6,318.6 L320.3,319.4 L321.1,320.2 L321.5,321.0 L321.5,321.8 L321.1,322.6 L320.2,323.4 L319.7,324.2 L319.7,325.0 L320.1,325.8 L320.9,326.6 L321.4,327.4 L321.4,328.2 L321.1,329.0 L320.3,329.8 L319.9,330.6 L319.8,331.4 L320.0,332.1 L320.6,332.9 L321.0,333.4 L321.3,333.8 L321.4,334.0" stroke="#222" stroke-width="1.4" stroke-dasharray="5 0.8"/>
<path d="M352.7,191.6 L352.7,192.7 L352.6,194.9 L352.9,197.0 L353.4,199.0 L353.5,201.0 L353.3,203.0 L353.5,205.0 L354.3,207.0 L354.6,209.0 L354.4,211.0 L354.7,213.0 L355.3,215.0 L355.5,217.2 L355.3,219.8 L355.4,222.2 L355.8,224.8 L355.9,227.2 L355.6,229.8 L355.7,232.2 L356.0,234.8 L356.2,237.2 L356.3,239.8 L356.5,242.2 L356.9,244.8 L356.8,247.2 L356.4,249.8 L355.9,252.2 L355.3,254.8 L354.8,257.0 L354.2,259.0 L353.8,260.9 L353.4,262.6 L354.2,265.0 L356.1,268.1 L357.3,271.4 L357.8,275.0 L357.7,278.1 L357.1,280.7 L357.2,283.6 L358.2,286.8 L358.2,289.9 L357.4,293.1 L356.1,295.4 L354.5,297.1 L346.0,297.9 L330.8,297.9 L323.2,297.9" stroke="#161616" stroke-width="2"/>
<path d="M352.7,191.6 L392.9,192.1 L394.3,197.9 L393.8,206.8 L396.0,214.0 L396.0,224.6 L393.8,233.6 L389.3,240.7 L383.0,247.0 L375.0,250.5 L366.0,253.2 L358.0,258.6 L354.5,263.0" stroke="#222" stroke-width="1.2" stroke-dasharray="5 1.5"/>
<path d="M353.2,263.5 L350.0,269.6 L347.3,276.8 L346.0,284.0 L342.9,288.4 L335.7,292.9 L326.8,295.5 L320.5,298.2" stroke="#222" stroke-width="1.2" stroke-dasharray="5 1.5"/>
</g>
<!-- star + line -->
<g stroke="#111" stroke-width="1" fill="none">
<line x1="304.8" y1="196" x2="306.6" y2="264.3"/>
<line x1="306.6" y1="271.4" x2="306.6" y2="277.8"/>
<path d="M304.3,193.6 L304.4,187.3 M304.3,193.6 L300,189.4 M304.3,193.6 L308.8,189.5 M304.3,193.6 L311.4,193.9 M304.3,193.6 L297.5,193.2 M304.3,193.6 L300.6,197.8 M304.3,193.6 L308.2,197.8" stroke-width="1.1"/>
</g>
<circle cx="304.3" cy="193.7" r="3.85" fill="#0a0a0a"/>
<!-- legend -->
<g fill="none" stroke="#333" stroke-width="1.1">
<path d="M388.4,154.5 L388.4,157.6 Q388.4,158.4 389.4,158.4 L392,158.4 M429.5,157.6 L432.8,157.5 L432.8,153.6" stroke-width="1.2" stroke-linejoin="round"/>
<path d="M394,158.3 L428,157.7" stroke-dasharray="4.4 2"/>
<path d="M388.4,167.6 L388.4,170.2 Q388.4,170.9 389.6,170.9 L432.8,169.7 L432.8,165.9" stroke-width="1.5" stroke-linejoin="round"/>
<line x1="373.2" y1="118.75" x2="403" y2="118.75" stroke-width="1.6" stroke="#1a1a1a"/>
</g>
<polygon points="407.6,118.75 401,116.4 401,121.1" fill="#1a1a1a"/>
<!-- small labels -->
<text class="s b" x="195.5" y="125" font-size="10.3" textLength="46.5" lengthAdjust="spacingAndGlyphs">S.P., (mV)</text>
<text class="s b" x="324.6" y="122.3" font-size="10.6" textLength="44" lengthAdjust="spacingAndGlyphs">Resistivity</text>
<g class="s" font-style="italic" font-size="9.8">
<text x="438.2" y="157.1">R</text><text x="444.4" y="159.6" font-size="7.5">t</text>
<text x="438.2" y="170.7">R</text><text x="444.4" y="173.7" font-size="7.8" font-weight="bold" textLength="8.3" lengthAdjust="spacingAndGlyphs">xo</text>
</g>
<g class="s" font-style="italic" font-size="10.4">
<text x="400.8" y="225.9">R</text><text x="407.3" y="227.6" font-size="7.5">t</text><text x="411.3" y="226.7" font-size="15.5" font-style="normal">&gt;</text><text x="423.3" y="225.9">R</text><text x="429.8" y="227.6" font-size="7.8" font-weight="bold" textLength="8.3" lengthAdjust="spacingAndGlyphs">xo</text>
<text x="366.5" y="280.8">R</text><text x="373.3" y="283.4" font-size="7.8" font-weight="bold" textLength="8.3" lengthAdjust="spacingAndGlyphs">xo</text><text x="384.4" y="282" font-size="15.5" font-style="normal">&gt;</text><text x="396" y="280.8">R</text><text x="402.5" y="283.2" font-size="7.5">t</text>
</g>
<text class="s b" x="474.3" y="275.3" font-size="10" textLength="24.5" lengthAdjust="spacingAndGlyphs">Water</text>
<text class="s b" x="477.6" y="284.6" font-size="10" textLength="19.5" lengthAdjust="spacingAndGlyphs">zone</text>
<!-- water arrows -->
<g fill="#111" stroke="none">
<polygon points="488.2,257 489.6,266.6 486.8,266.6"/>
<rect x="486.4" y="257" width="3.6" height="1"/>
<polygon points="488.5,287.4 489.9,291.5 489,295.6 488,295.6 487.1,291.5"/>
<rect x="486.7" y="294.8" width="3.6" height="1"/>
<rect x="485.8" y="188.6" width="2" height="1.8"/>
</g>
</g>
<!-- braces -->
<g fill="none" stroke="#d4232b" stroke-width="1.4" stroke-linecap="round">
<path d="M213.9,158.4 L210.4,158.4 C208.2,158.4 207.3,159.2 207.3,161.2 L207.3,167 C207.3,168.7 206.3,169.3 204,169.3 L195,169.3 M204,169.3 C206.3,169.3 207.3,169.9 207.3,171.6 L207.3,177.4 C207.3,179.4 208.2,180.2 210.4,180.2 L213.9,180.2"/>
<path d="M513.4,185.9 L522,185.9 C524.8,185.9 525.7,186.8 525.7,189.4 L525.7,218 C525.7,220.8 527.3,222 530.6,222 L544.2,222 M530.6,222 C527.3,222 525.7,223.2 525.7,226 L525.7,253.8 C525.7,256.4 524.8,257.3 522,257.3 L513.4,257.3"/>
<path d="M513.8,260.5 L521.8,260.5 C524.4,260.5 525.3,261.4 525.3,263.8 L525.3,274.4 C525.3,276.8 526.6,277.7 529.2,277.7 L535.6,277.7 M529.2,277.7 C526.6,277.7 525.3,278.6 525.3,281 L525.3,291.3 C525.3,293.7 524.4,294.6 521.8,294.6 L513.8,294.6"/>
<path d="M513.8,295.4 L516.8,295.4 C518.7,295.4 519.4,296.1 519.4,298 L519.4,309.6 C519.4,311.3 520.3,312 522.4,312 L530.9,312 M522.4,312 C520.3,312 519.4,312.7 519.4,314.4 L519.4,325.4 C519.4,327.3 518.7,328 516.8,328 L513.4,328"/>
</g>
<!-- zone labels -->
<text class="z" x="141.9" y="175.4" font-size="14.7" textLength="47.9" lengthAdjust="spacingAndGlyphs">Zone A</text>
<text class="z" x="547.1" y="226.2" font-size="15.2" textLength="46.7" lengthAdjust="spacingAndGlyphs">Zone B</text>
<text class="z" x="542.8" y="282" font-size="15.2" textLength="46.4" lengthAdjust="spacingAndGlyphs">Zone C</text>
<text class="z" x="540.8" y="314.7" font-size="15.2" textLength="48" lengthAdjust="spacingAndGlyphs">Zone D</text>
<!-- caret + squiggle -->
<rect x="615.3" y="338" width="1.1" height="15.7" fill="#000"/>
<path d="M741.3,73.8 q1.05,1.9 2.1,0 t2.1,0 t2.1,0 t2.1,0 t2.1,0 t2.1,0 t2.1,0 t2.1,0 " fill="none" stroke="#f01a1a" stroke-width="1.25"/>
</svg>
</body></html>
